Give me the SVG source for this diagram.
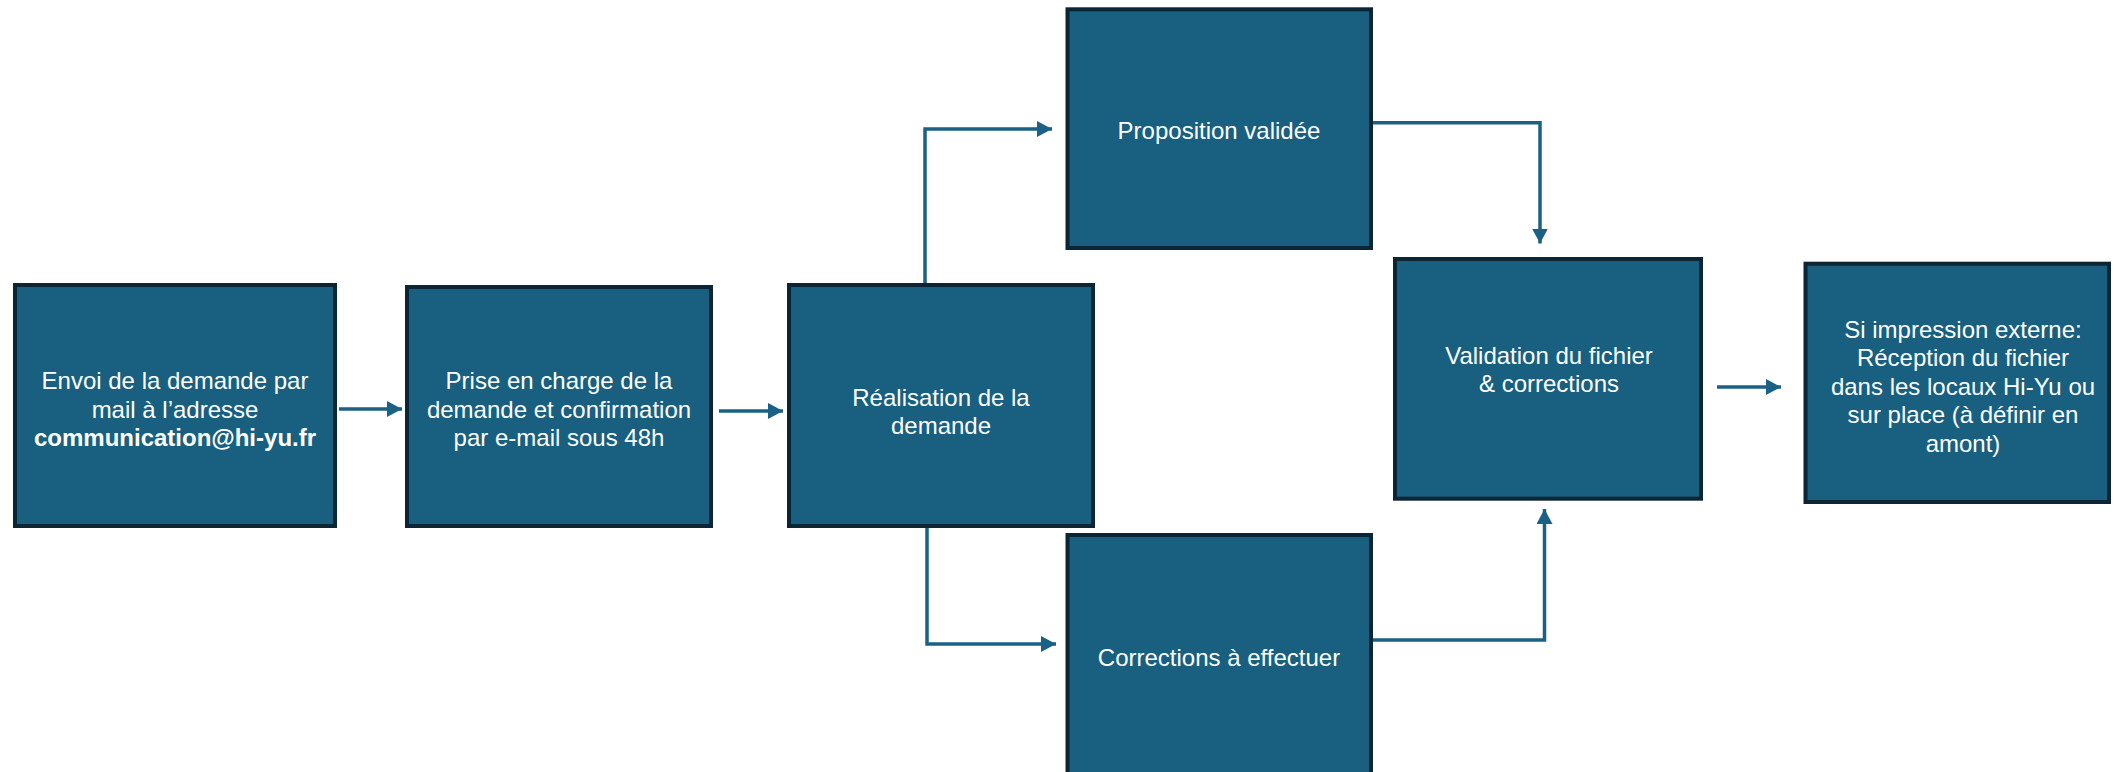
<svg xmlns="http://www.w3.org/2000/svg" width="2116" height="772" viewBox="0 0 2116 772">
<style>
.box{fill:#185F80;stroke:#0B2535;stroke-width:4}
.t{font-family:"Liberation Sans",Arial,sans-serif;font-size:24px;fill:#FFFFFF;text-anchor:middle}
.b{font-weight:bold}
.c{fill:none;stroke:#1A6185;stroke-width:3.5;marker-end:url(#ah)}
</style>
<defs>
<marker id="ah" markerUnits="userSpaceOnUse" markerWidth="16" markerHeight="16" refX="15" refY="8" orient="auto">
<path d="M0,0 L15,8 L0,16 z" fill="#1A6185"/>
</marker>
</defs>
<rect width="2116" height="772" fill="#FFFFFF"/>
<g id="n1">
<rect class="box" x="15" y="285" width="320" height="241"/>
<text class="t" x="175" y="389">Envoi de la demande par</text>
<text class="t" x="175" y="417.5">mail à l’adresse</text>
<text class="t b" x="175" y="446">communication@hi-yu.fr</text>
</g>
<g id="n2">
<rect class="box" x="407" y="287" width="304" height="239"/>
<text class="t" x="559" y="389">Prise en charge de la</text>
<text class="t" x="559" y="417.5">demande et confirmation</text>
<text class="t" x="559" y="446">par e-mail sous 48h</text>
</g>
<g id="n3">
<rect class="box" x="789" y="285" width="304" height="241"/>
<text class="t" x="941" y="406">Réalisation de la</text>
<text class="t" x="941" y="434">demande</text>
</g>
<g id="n4">
<rect class="box" x="1067.5" y="9.3" width="303.5" height="238.7"/>
<text class="t" x="1219" y="138.5">Proposition validée</text>
</g>
<g id="n5">
<rect class="box" x="1067.5" y="535" width="303.5" height="260"/>
<text class="t" x="1219" y="665.7">Corrections à effectuer</text>
</g>
<g id="n6">
<rect class="box" x="1395" y="259" width="306" height="239.7"/>
<text class="t" x="1549" y="364">Validation du fichier</text>
<text class="t" x="1549" y="392.3">&amp; corrections</text>
</g>
<g id="n7">
<rect class="box" x="1805.5" y="263.7" width="303.5" height="238.3"/>
<text class="t" x="1963" y="337.7">Si impression externe:</text>
<text class="t" x="1963" y="366.2">Réception du fichier</text>
<text class="t" x="1963" y="394.6">dans les locaux Hi-Yu ou</text>
<text class="t" x="1963" y="423">sur place (à définir en</text>
<text class="t" x="1963" y="451.5">amont)</text>
</g>
<g id="connectors">
<path class="c" d="M339 409 H402"/>
<path class="c" d="M719 411 H783"/>
<path class="c" d="M925 283 V129 H1052"/>
<path class="c" d="M1373 122.7 H1540 V243.5"/>
<path class="c" d="M927 528 V644 H1056"/>
<path class="c" d="M1373 640 H1544.5 V509"/>
<path class="c" d="M1717 387 H1781"/>
</g>
</svg>
